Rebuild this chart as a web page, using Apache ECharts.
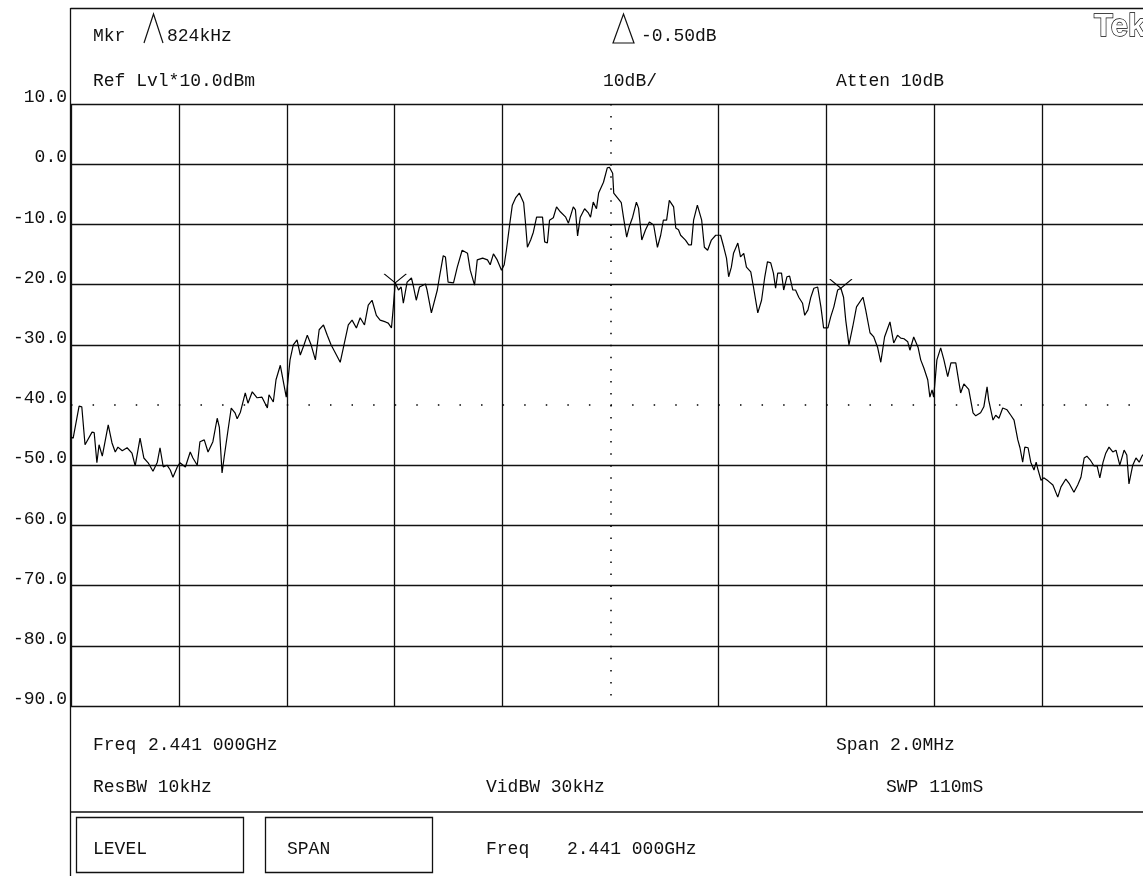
<!DOCTYPE html>
<html>
<head>
<meta charset="utf-8">
<script src="https://cdn.jsdelivr.net/npm/echarts@6/dist/echarts.min.js"></script>
<style>
  html, body { margin: 0; padding: 0; background: #fff; overflow: hidden; }
  #chart { width: 1150px; height: 876px; }
</style>
</head>
<body>
<div id="chart"></div>
<script>
// Frequency offset from centre (kHz), span 2.0 MHz centred on 2.441 GHz
const freqKHz = [
  -1000,-996,-985,-980,-974,-961,-957,-952,-948,-942,-931,-924,-918,-913,-905,-896,-887,-881,-872,-865,
  -857,-848,-840,-835,-829,-822,-816,-811,-803,-798,-788,-779,-774,-766,-761,-753,-746,-737,-729,-725,
  -720,-716,-709,-703,-696,-692,-686,-677,-672,-664,-655,-646,-636,-633,-625,-620,-612,-601,-594,-588,
  -581,-575,-568,-562,-555,-547,-540,-532,-525,-518,-508,-501,-494,-486,-479,-471,-464,-456,-449,-442,
  -434,-427,-417,-412,-406,-403,-399,-393,-388,-384,-377,-369,-365,-360,-354,-343,-340,-332,-321,-317,
  -310,-306,-301,-291,-284,-275,-265,-260,-252,-247,-237,-228,-223,-217,-210,-202,-197,-193,-187,-182,
  -176,-169,-161,-158,-154,-148,-143,-137,-126,-122,-117,-113,-106,-100,-93,-83,-78,-69,-65,-61,
  -56,-48,-41,-37,-32,-26,-22,-13,-6,-2,4,6,13,20,24,30,35,41,48,52,
  58,65,72,80,87,93,98,104,109,117,121,126,130,139,145,150,154,161,169,174,
  180,187,195,204,210,215,219,224,228,236,241,247,252,260,265,273,280,286,291,297,
  302,306,310,317,321,327,332,338,343,349,356,360,366,371,377,384,390,395,403,408,
  414,421,427,432,436,442,449,456,468,473,481,488,495,501,508,518,525,532,538,544,
  551,555,562,570,575,581,588,592,596,599,605,612,618,625,631,640,649,655,664,672,
  677,686,692,698,701,709,714,720,727,735,742,748,755,759,764,768,774,779,785,789,
  792,798,803,811,820,829,835,844,850,859,866,872,878,883,889,896,902,907,913,918,
  924,931,937,944,952,957,961,968,974,980,985,989,1000
];
// Trace level (dBm)
const levelDbm = [
  -45.3,-45.5,-40.2,-40.3,-46.6,-44.5,-44.6,-49.6,-46.6,-48.5,-43.3,-46.3,-47.8,-47.0,-47.6,-47.1,-48.0,-50.1,-45.5,-48.8,
  -49.6,-51.0,-49.5,-47.1,-50.3,-50.0,-50.8,-52.0,-50.3,-49.6,-50.3,-47.8,-48.8,-50.0,-46.1,-45.8,-47.8,-46.1,-42.2,-43.7,
  -51.3,-48.6,-44.2,-40.5,-41.3,-42.3,-41.2,-38.0,-39.7,-37.8,-38.8,-38.7,-40.5,-38.3,-39.5,-35.8,-33.4,-38.7,-32.5,-30.0,
  -29.2,-31.7,-30.0,-28.4,-30.0,-32.5,-27.5,-26.7,-28.4,-30.0,-31.7,-32.9,-30.0,-26.7,-25.9,-27.2,-25.5,-26.7,-23.4,-22.6,
  -25.1,-25.9,-26.2,-26.4,-27.2,-24.2,-19.7,-20.9,-20.4,-23.1,-19.6,-18.9,-20.4,-22.6,-20.4,-19.9,-20.9,-24.7,-20.9,-18.7,
  -15.2,-15.4,-19.6,-19.7,-17.1,-14.3,-14.8,-17.6,-20.1,-15.9,-15.6,-15.9,-16.7,-14.9,-15.9,-17.6,-16.7,-14.3,-10.1,-6.8,
  -5.6,-4.8,-6.4,-9.3,-13.8,-12.6,-11.3,-8.8,-8.8,-12.9,-13.1,-9.3,-8.9,-7.1,-7.9,-8.8,-9.8,-7.1,-7.6,-11.9,
  -8.8,-7.4,-8.1,-8.8,-6.3,-7.4,-4.8,-3.0,-0.6,-0.5,-1.5,-4.8,-5.6,-6.4,-8.8,-12.1,-10.3,-8.8,-6.3,-7.3,
  -12.6,-10.9,-9.6,-10.1,-13.8,-11.8,-9.3,-9.3,-6.0,-7.1,-10.6,-10.9,-11.8,-12.6,-13.4,-13.4,-9.3,-6.8,-9.3,-13.8,
  -14.3,-12.6,-11.8,-11.8,-13.8,-15.6,-18.7,-17.1,-14.8,-13.1,-15.4,-14.8,-17.1,-17.9,-20.4,-24.7,-22.6,-18.7,-16.2,-16.4,
  -18.1,-20.6,-18.1,-18.1,-20.9,-18.7,-18.6,-20.9,-20.9,-22.1,-23.1,-25.1,-24.2,-22.2,-20.6,-20.4,-23.7,-27.2,-27.2,-25.4,
  -23.7,-20.9,-20.6,-22.1,-25.9,-30.0,-27.0,-23.7,-22.1,-24.2,-28.0,-28.7,-30.4,-32.9,-28.7,-26.2,-29.7,-28.4,-28.9,-29.0,
  -29.5,-30.9,-28.7,-30.4,-32.5,-33.9,-35.8,-38.7,-37.5,-38.7,-32.5,-30.5,-32.5,-35.3,-33.0,-33.0,-38.0,-36.5,-37.4,-41.3,
  -41.8,-41.3,-40.3,-37.0,-39.2,-42.5,-41.7,-42.2,-40.5,-40.8,-41.7,-42.5,-45.8,-47.1,-49.5,-47.0,-47.1,-49.5,-50.8,-49.5,
  -50.6,-52.5,-52.1,-52.6,-53.3,-55.3,-53.6,-52.3,-53.0,-54.5,-53.3,-52.0,-48.8,-48.5,-49.1,-50.1,-50.1,-52.1,-49.5,-48.0,
  -47.0,-47.8,-47.5,-50.0,-47.5,-48.3,-53.1,-50.0,-48.8,-49.5,-48.5,-48.1,-48.6
];
// Marker positions (kHz offset, dBm)
const markerFreq = [-399, 427];
const markerLevel = [-19.7, -20.6];

// Axis settings / tick labels
const yMin = -90, yMax = 10, yStep = 10;
const xMin = -1000, xMax = 1000, xStep = 200;
const yTickLabels = ['-90.0','-80.0','-70.0','-60.0','-50.0','-40.0','-30.0','-20.0','-10.0','0.0','10.0'];

// Annotation texts
const mkrLabel = 'Mkr';
const mkrValue = '824kHz';
const deltaValue = '-0.50dB';
const refLevel = 'Ref Lvl*10.0dBm';
const scaleText = '10dB/';
const attenText = 'Atten 10dB';
const freqLabel = 'Freq';
const freqValue = '2.441 000GHz';
const spanText = 'Span 2.0MHz';
const resBwText = 'ResBW 10kHz';
const vidBwText = 'VidBW 30kHz';
const swpText = 'SWP 110mS';
const levelBtn = 'LEVEL';
const spanBtn = 'SPAN';
const logoText = 'Tek';

const FONT = '"Liberation Mono", "DejaVu Sans Mono", monospace';
const FS = 18;
const INK = '#111';
const RIGHT = 1150;

function txt(text, x, y, extra) {
  return {
    type: 'text', x: x, y: y, silent: true,
    style: Object.assign({
      text: text, fill: INK, font: FS + 'px ' + FONT,
      textAlign: 'left', textVerticalAlign: 'middle', verticalAlign: 'middle'
    }, extra || {})
  };
}
function ln(x1, y1, x2, y2, w) {
  return { type: 'line', silent: true, shape: { x1: x1, y1: y1, x2: x2, y2: y2 },
           style: { stroke: INK, lineWidth: w || 1.3 } };
}

const gridColorsX = []; for (let v = xMin; v <= xMax; v += xStep) gridColorsX.push(v === 0 ? 'rgba(0,0,0,0)' : INK);
const gridColorsY = []; for (let v = yMin; v <= yMax; v += yStep) gridColorsY.push(v === -40 ? 'rgba(0,0,0,0)' : INK);

const chart = echarts.init(document.getElementById('chart'), null, { renderer: 'canvas' });
chart.setOption({
  animation: false,
  backgroundColor: '#fff',
  grid: { left: 71, top: 104, bottom: 170, right: 0, containLabel: false },
  xAxis: {
    type: 'value', min: xMin, max: xMax, interval: xStep,
    axisLine: { show: false }, axisTick: { show: false }, axisLabel: { show: false },
    splitLine: { show: true, lineStyle: { color: gridColorsX, width: 1.3 } }
  },
  yAxis: {
    type: 'value', min: yMin, max: yMax, interval: yStep,
    axisLine: { show: false }, axisTick: { show: false },
    axisLabel: {
      show: true, margin: 4, color: INK, fontFamily: FONT, fontSize: FS,
      verticalAlign: 'bottom', lineHeight: 13,
      formatter: function (v) { const i = Math.round((v - yMin) / yStep); return yTickLabels[i]; }
    },
    splitLine: { show: true, lineStyle: { color: gridColorsY, width: 1.3 } }
  },
  series: [{
    type: 'line',
    data: freqKHz.map(function (f, i) { return [f, levelDbm[i]]; }),
    showSymbol: false, symbol: 'none',
    lineStyle: { color: '#000', width: 1.2 },
    clip: true,
    markLine: {
      silent: true, symbol: 'none', label: { show: false },
      lineStyle: { color: '#000', width: 1.5, type: [1.5, 20.08] },
      data: [
        [{ coord: [xMin, -40] }, { coord: [xMax, -40] }],
        [{ coord: [0, yMax], lineStyle: { type: [1.5, 10.54], color: '#000', width: 1.5 } }, { coord: [0, yMin] }]
      ]
    },
    markPoint: {
      silent: true,
      symbol: 'path://M0 0 L10 8 L20 0',
      symbolSize: [22, 9],
      symbolOffset: [0, '-50%'],
      itemStyle: { color: 'rgba(0,0,0,0)', borderColor: '#000', borderWidth: 1 },
      label: { show: false },
      data: markerFreq.map(function (f, i) { return { coord: [f, markerLevel[i]] }; })
    }
  }],
  graphic: [
    // frame
    ln(70.5, 8.5, RIGHT, 8.5),
    ln(70.5, 8, 70.5, 876),
    ln(70.5, 812, RIGHT, 812),
    // soft-key boxes
    { type: 'rect', silent: true, shape: { x: 76.5, y: 817.5, width: 167, height: 55 }, style: { fill: 'none', stroke: INK, lineWidth: 1.3 } },
    { type: 'rect', silent: true, shape: { x: 265.5, y: 817.5, width: 167, height: 55 }, style: { fill: 'none', stroke: INK, lineWidth: 1.3 } },
    // marker glyphs
    { type: 'polyline', silent: true, shape: { points: [[144, 43], [153.5, 14], [163, 43]] }, style: { fill: 'none', stroke: INK, lineWidth: 1.2 } },
    { type: 'polygon', silent: true, shape: { points: [[613, 43], [623.5, 14], [634, 43]] }, style: { fill: 'none', stroke: INK, lineWidth: 1.2 } },
    // header text
    txt(mkrLabel, 93, 36),
    txt(mkrValue, 167, 36),
    txt(deltaValue, 641, 36),
    txt(refLevel, 93, 81),
    txt(scaleText, 603, 81),
    txt(attenText, 836, 81),
    txt(logoText, 1094, 27, { font: 'bold 31px "Liberation Sans", "DejaVu Sans", sans-serif', fill: '#fff', stroke: '#000', lineWidth: 1.3 }),
    // footer text
    txt(freqLabel, 93, 745),
    txt(freqValue, 148, 745),
    txt(spanText, 836, 745),
    txt(resBwText, 93, 787),
    txt(vidBwText, 486, 787),
    txt(swpText, 886, 787),
    txt(levelBtn, 93, 849),
    txt(spanBtn, 287, 849),
    txt(freqLabel, 486, 849),
    txt(freqValue, 567, 849)
  ]
});
</script>
</body>
</html>
